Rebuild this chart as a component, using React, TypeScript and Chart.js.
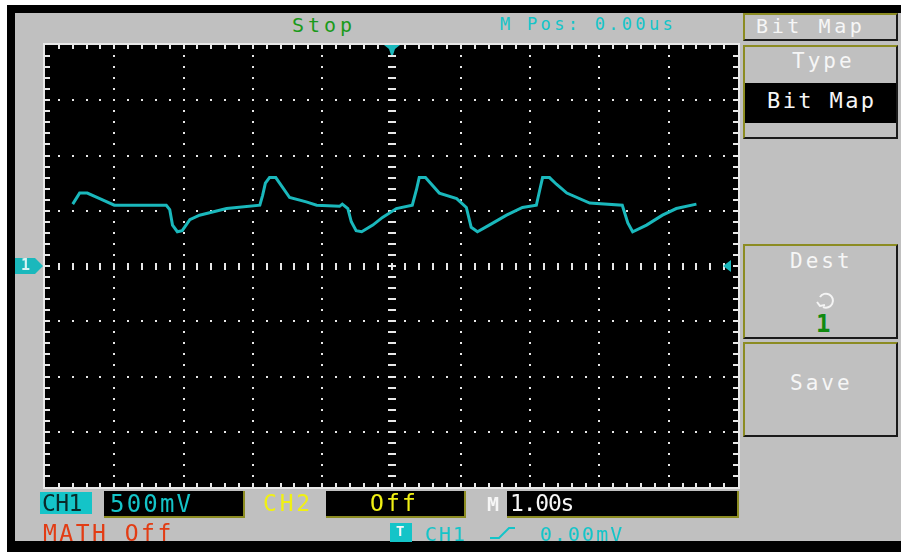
import React, { useEffect, useRef } from "react";
import { Chart, registerables } from "chart.js";

Chart.register(...registerables);

// ---- data (time in s, CH1 voltage in V) ----
const timeSec = [
  -4.6, -4.53, -4.5, -4.39, -4.21, -4.0, -3.25, -3.2, -3.16, -3.09, -3.02, -2.91, -2.77, -2.38, -1.9,
  -1.86, -1.82, -1.76, -1.67, -1.47, -1.23, -1.08, -0.75, -0.71, -0.63, -0.58, -0.51, -0.43, -0.27,
  -0.13, 0.07, 0.3, 0.36, 0.4, 0.49, 0.69, 0.94, 1.08, 1.15, 1.24, 1.41, 1.66, 1.89, 2.09, 2.14, 2.18,
  2.28, 2.38, 2.53, 2.86, 3.33, 3.41, 3.48, 3.68, 3.91, 4.11, 4.4,
];
const ch1Volts = [
  0.56, 0.63, 0.66, 0.66, 0.61, 0.55, 0.55, 0.51, 0.37, 0.31, 0.32, 0.42, 0.46, 0.52, 0.55,
  0.64, 0.75, 0.8, 0.8, 0.62, 0.58, 0.55, 0.54, 0.56, 0.52, 0.4, 0.32, 0.31, 0.37,
  0.44, 0.52, 0.55, 0.69, 0.8, 0.8, 0.66, 0.61, 0.53, 0.35, 0.31, 0.37, 0.46, 0.53, 0.55, 0.69, 0.8,
  0.8, 0.74, 0.66, 0.57, 0.55, 0.39, 0.31, 0.37, 0.46, 0.52, 0.56,
];

const X_MIN = -5;
const X_MAX = 5;
const X_DIVS = 10; // 1.00 s / div
const Y_MIN = -2;
const Y_MAX = 2;
const Y_DIVS = 8; // 500 mV / div
const MINOR = 5;

const CYAN = "#1ab8bc";
const TEXT_CYAN = "#14c4c8";
const OLIVE = "#8c8c22";
const GREY = "#c0c0c0";
const FONT = '"DejaVu Sans Mono", "Liberation Mono", monospace';

const graticule = {
  id: "graticule",
  beforeDatasetsDraw(chart: any) {
    const { ctx, chartArea: a, scales } = chart;
    const xs = scales.x;
    const ys = scales.y;
    const xAt = (i: number) => Math.round(xs.getPixelForValue(X_MIN + (i * (X_MAX - X_MIN)) / (X_DIVS * MINOR)));
    const yAt = (j: number) => Math.round(ys.getPixelForValue(Y_MIN + (j * (Y_MAX - Y_MIN)) / (Y_DIVS * MINOR)));
    const nx = X_DIVS * MINOR;
    const ny = Y_DIVS * MINOR;
    ctx.save();
    ctx.fillStyle = "#000";
    ctx.fillRect(a.left, a.top, a.right - a.left, a.bottom - a.top);
    ctx.fillStyle = "#e8e8e8";
    for (let d = 1; d < X_DIVS; d++) {
      if (d === X_DIVS / 2) continue;
      const x = xAt(d * MINOR);
      for (let j = 1; j < ny; j++) ctx.fillRect(x - 1, yAt(j) - 1, 2, 2);
    }
    for (let d = 1; d < Y_DIVS; d++) {
      if (d === Y_DIVS / 2) continue;
      const y = yAt(d * MINOR);
      for (let i = 1; i < nx; i++) ctx.fillRect(xAt(i) - 1, y - 1, 2, 2);
    }
    const cy = yAt(ny / 2);
    for (let i = 1; i < nx; i++) ctx.fillRect(xAt(i) - 1, cy - 3, 2, 7);
    const cx = xAt(nx / 2);
    for (let j = 1; j < ny; j++) ctx.fillRect(cx - 4, yAt(j) - 1, 8, 2);
    const w = a.right - a.left;
    const h = a.bottom - a.top;
    ctx.fillRect(a.left - 2, a.top - 2, w + 4, 2);
    ctx.fillRect(a.left - 2, a.bottom, w + 4, 2);
    ctx.fillRect(a.left - 2, a.top - 2, 2, h + 4);
    ctx.fillRect(a.right, a.top - 2, 2, h + 4);
    for (let i = 1; i < nx; i++) {
      ctx.fillRect(xAt(i) - 1, a.top, 2, 4);
      ctx.fillRect(xAt(i) - 1, a.bottom - 4, 2, 4);
    }
    for (let j = 1; j < ny; j++) {
      ctx.fillRect(a.left, yAt(j) - 1, 5, 2);
      ctx.fillRect(a.right - 5, yAt(j) - 1, 5, 2);
    }
    ctx.restore();
  },
};

function Txt(props: { x: number; y: number; size: number; color: string; ls?: number; bold?: boolean; children: any }) {
  const { x, y, size, color, ls = 0, bold = false, children } = props;
  return (
    <div
      style={{
        position: "absolute",
        left: x,
        top: y - 0.117 * size,
        fontFamily: FONT,
        fontSize: size,
        lineHeight: `${size}px`,
        letterSpacing: ls,
        color,
        fontWeight: bold ? "bold" : "normal",
        whiteSpace: "pre",
      }}
    >
      {children}
    </div>
  );
}

function Box(props: { x: number; y: number; w: number; h: number; bevel?: boolean; bg?: string; children?: any }) {
  const { x, y, w, h, bevel = true, bg = GREY, children } = props;
  const style: any = {
    position: "absolute",
    left: x,
    top: y,
    width: w,
    height: h,
    boxSizing: "border-box",
    background: bg,
  };
  if (bevel) {
    style.borderTop = `2px solid ${OLIVE}`;
    style.borderLeft = `2px solid ${OLIVE}`;
    style.borderBottom = "2px solid #1a1a1a";
    style.borderRight = "2px solid #1a1a1a";
  } else {
    style.borderBottom = `2px solid ${OLIVE}`;
    style.borderRight = `2px solid ${OLIVE}`;
  }
  return <div style={style}>{children}</div>;
}

export default function App() {
  const canvasRef = useRef<HTMLCanvasElement | null>(null);

  useEffect(() => {
    if (!canvasRef.current) return;
    const chart = new Chart(canvasRef.current, {
      type: "scatter",
      data: {
        datasets: [
          {
            label: "CH1",
            data: timeSec.map((t, i) => ({ x: t, y: ch1Volts[i] })),
            showLine: true,
            borderColor: CYAN,
            borderWidth: 3,
            pointRadius: 0,
            fill: false,
            tension: 0,
          },
        ],
      },
      options: {
        animation: false,
        responsive: false,
        devicePixelRatio: 1,
        layout: { padding: { left: 4, right: 4, top: 4, bottom: 4 } },
        scales: {
          x: { type: "linear", min: X_MIN, max: X_MAX, display: false },
          y: { type: "linear", min: Y_MIN, max: Y_MAX, display: false },
        },
        plugins: { legend: { display: false }, tooltip: { enabled: false } },
      },
      plugins: [graticule],
    });
    return () => chart.destroy();
  }, []);

  return (
    <div style={{ position: "absolute", left: 0, top: 0, width: 901, height: 552, background: GREY, overflow: "hidden" }}>
      {/* frame */}
      <div style={{ position: "absolute", left: 0, top: 0, width: 901, height: 5, background: "#fff" }} />
      <div style={{ position: "absolute", left: 0, top: 0, width: 7, height: 552, background: "#fff" }} />
      <div style={{ position: "absolute", left: 7, top: 5, width: 894, height: 8, background: "#000" }} />
      <div style={{ position: "absolute", left: 7, top: 5, width: 8, height: 547, background: "#000" }} />
      <div style={{ position: "absolute", left: 7, top: 541, width: 894, height: 11, background: "#000" }} />

      {/* top texts */}
      <Txt x={292} y={17} size={20} color="#1a9a1a" ls={4}>Stop</Txt>
      <Txt x={500} y={18} size={17} color={TEXT_CYAN} ls={3.3}>M Pos: 0.00us</Txt>

      {/* plot */}
      <canvas ref={canvasRef} width={701} height={450} style={{ position: "absolute", left: 41, top: 41 }} />

      {/* right menu */}
      <Box x={743} y={13} w={155} h={28} />
      <Txt x={756} y={18} size={20} color="#f6f6f6" ls={3.6}>Bit Map</Txt>
      <Box x={743} y={45} w={155} h={94} />
      <div style={{ position: "absolute", left: 745, top: 83, width: 151, height: 40, background: "#000" }} />
      <Txt x={792} y={53} size={21} color="#f6f6f6" ls={3}>Type</Txt>
      <Txt x={767} y={93} size={22} color="#f6f6f6" ls={2.4}>Bit Map</Txt>
      <Box x={743} y={244} w={155} h={95} />
      <Txt x={790} y={253} size={21} color="#f6f6f6" ls={3}>Dest</Txt>
      <Txt x={816} y={315} size={24} color="#108a10" bold>1</Txt>
      <Box x={743} y={342} w={155} h={95} />
      <Txt x={790} y={375} size={21} color="#f6f6f6" ls={3}>Save</Txt>

      {/* bottom status */}
      <div style={{ position: "absolute", left: 40, top: 492, width: 52, height: 22, background: TEXT_CYAN }} />
      <Txt x={42} y={495} size={23} color="#0a2a2a" ls={-0.6}>CH1</Txt>
      <Box x={104} y={491} w={141} h={27} bevel={false} bg="#000" />
      <Txt x={110} y={495} size={24} color={TEXT_CYAN} ls={2.2}>500mV</Txt>
      <Txt x={263} y={495} size={23} color="#f0f014" ls={2.8}>CH2</Txt>
      <Box x={326} y={491} w={140} h={27} bevel={false} bg="#000" />
      <Txt x={370} y={495} size={23} color="#f0f014" ls={2.2}>Off</Txt>
      <Txt x={487} y={496} size={20} color="#f6f6f6" bold>M</Txt>
      <Box x={507} y={491} w={232} h={27} bevel={false} bg="#000" />
      <Txt x={510} y={495} size={23} color="#f6f6f6" ls={-1.2}>1.00s</Txt>

      {/* markers & icons (on top) */}
      <svg width={901} height={552} style={{ position: "absolute", left: 0, top: 0, pointerEvents: "none" }}>
        <polygon points="384,45 400,45 395,49 393,55 391,55 389,49" fill={CYAN} />
        <polygon points="15,258 35,258 43,266 35,274 15,274" fill={CYAN} />
        <polygon points="723,266 731,260 731,272" fill={CYAN} />
        <polyline points="490,538 499,538 509,528 515,528" fill="none" stroke={TEXT_CYAN} strokeWidth={2} />
        <path d="M 820 297 A 7 7 0 1 1 823 307" fill="none" stroke="#f4f4f4" strokeWidth={2} />
        <polyline points="817,302 820,306 825,305" fill="none" stroke="#f4f4f4" strokeWidth={2} />
        <rect x={390} y={523} width={22} height={19} fill={TEXT_CYAN} />
      </svg>
      <Txt x={21} y={260} size={15} color="#d8f4f4" bold>1</Txt>

      <Txt x={43} y={525} size={23} color="#e23c14" ls={2.5}>MATH Off</Txt>
      <Txt x={396} y={526} size={14} color="#f6f6f6" bold>T</Txt>
      <Txt x={425} y={526} size={20} color={TEXT_CYAN} ls={2}>CH1</Txt>
      <Txt x={540} y={526} size={20} color={TEXT_CYAN} ls={2}>0.00mV</Txt>
    </div>
  );
}
